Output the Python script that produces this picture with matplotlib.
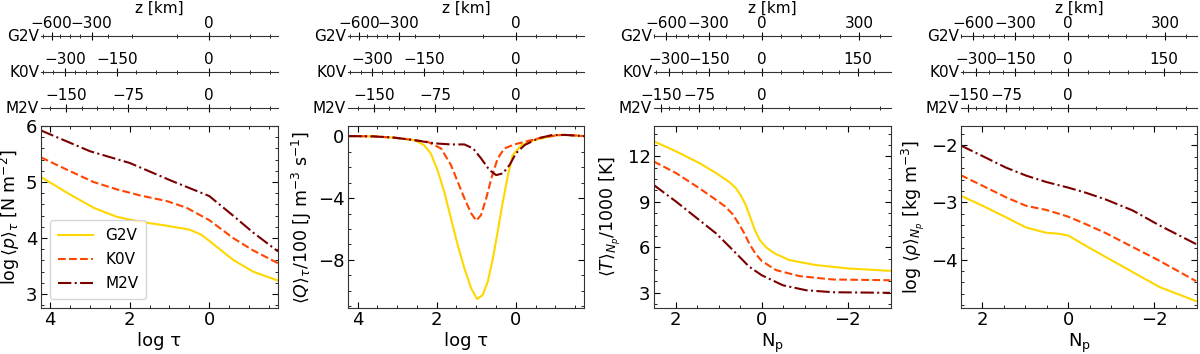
import matplotlib
matplotlib.use('Agg')
import matplotlib.pyplot as plt
from matplotlib.ticker import AutoMinorLocator

plt.rcParams['font.family'] = ['DejaVu Sans']
plt.rcParams['font.size'] = 11

STARS = ['G2V', 'K0V', 'M2V']
COLORS = ['gold', 'orangered', '#7a0000']
STYLES = ['-', '--', '-.']

# panel 1: log <p>_tau vs log tau
P_TAU = {
    'G2V': [4.23, 3.58, 2.91, 2.33, 1.74, 1.07, 0.5, 0.2, 0.0, -0.3, -0.6, -1.1, -1.73],
    'K0V': [4.23, 3.58, 2.91, 2.33, 1.74, 1.07, 0.57, 0.0, -0.6, -1.1, -1.73],
    'M2V': [4.23, 3.0, 2.0, 0.91, 0.0, -0.6, -1.1, -1.73],
}
P_VAL = {
    'G2V': [5.09, 4.81, 4.54, 4.38, 4.29, 4.22, 4.15, 4.06, 3.95, 3.78, 3.61, 3.40, 3.24],
    'K0V': [5.44, 5.22, 5.00, 4.87, 4.76, 4.66, 4.54, 4.32, 4.00, 3.78, 3.55],
    'M2V': [5.92, 5.55, 5.34, 5.01, 4.75, 4.40, 4.10, 3.76],
}

# panel 2: <Q>_tau / 100 vs log tau
Q_TAU = {
    'G2V': [4.23, 3.6, 3.08, 2.57, 2.32, 2.15, 1.98, 1.81, 1.64, 1.47, 1.30, 1.13, 0.98,
            0.84, 0.71, 0.58, 0.46, 0.33, 0.20, 0.08, -0.14, -0.47, -0.90, -1.1, -1.4, -1.72],
    'K0V': [4.23, 3.6, 3.08, 2.23, 1.89, 1.64, 1.47, 1.30, 1.13, 1.00, 0.88, 0.75, 0.62,
            0.46, 0.29, 0.04, -0.30, -0.64, -0.97, -1.2, -1.72],
    'M2V': [4.23, 3.6, 3.08, 2.57, 2.06, 1.64, 1.30, 1.08, 0.88, 0.67, 0.50, 0.33, 0.16,
            0.0, -0.22, -0.56, -0.90, -1.27, -1.72],
}
Q_VAL = {
    'G2V': [0.0, -0.02, -0.10, -0.26, -0.58, -1.12, -2.19, -3.59, -5.31, -7.03, -8.54, -9.83, -10.52,
            -10.26, -9.40, -7.89, -6.17, -4.24, -2.52, -1.23, -0.58, -0.26, 0.0, 0.08, 0.06, 0.0],
    'K0V': [0.0, -0.02, -0.10, -0.37, -0.80, -1.87, -2.95, -4.02, -4.99, -5.46, -5.10, -4.02, -2.73,
            -1.44, -0.80, -0.54, -0.32, -0.10, 0.02, 0.08, 0.0],
    'M2V': [0.0, -0.02, -0.10, -0.26, -0.47, -0.54, -0.54, -0.80, -1.44, -2.19, -2.52, -2.41, -1.87,
            -1.12, -0.58, -0.15, 0.06, 0.07, 0.0],
}

# panel 3: <T>_Np / 1000 vs Np
T_NP = {
    'G2V': [2.51, 1.99, 1.45, 1.06, 0.75, 0.6, 0.48, 0.38, 0.28, 0.17, 0.05, -0.1, -0.3,
            -0.64, -1.26, -2.04, -2.98],
    'K0V': [2.51, 1.99, 1.45, 1.06, 0.85, 0.68, 0.52, 0.4, 0.29, 0.15, 0.0, -0.33, -0.88, -1.65, -2.98],
    'M2V': [2.51, 1.99, 1.45, 1.06, 0.67, 0.29, 0.0, -0.49, -1.03, -1.65, -2.98],
}
T_VAL = {
    'G2V': [13.0, 12.33, 11.56, 10.9, 10.3, 9.9, 9.4, 8.85, 8.1, 7.2, 6.5, 6.0, 5.6,
            5.16, 4.83, 4.6, 4.45],
    'K0V': [11.67, 10.9, 9.9, 9.13, 8.7, 8.2, 7.5, 6.9, 6.25, 5.6, 5.1, 4.5, 4.1, 3.88, 3.83],
    'M2V': [10.12, 9.02, 7.8, 6.92, 5.82, 4.72, 4.16, 3.5, 3.17, 3.04, 3.0],
}

# panel 4: log <rho>_Np vs Np
R_NP = [2.51, 1.99, 1.45, 0.98, 0.52, 0.21, 0.0, -0.41, -0.88, -1.5, -2.12, -2.98]
R_VAL = {
    'G2V': [-2.88, -3.06, -3.26, -3.44, -3.53, -3.55, -3.58, -3.76, -3.96, -4.22, -4.48, -4.73],
    'K0V': [-2.52, -2.71, -2.91, -3.06, -3.13, -3.20, -3.25, -3.38, -3.54, -3.78, -4.02, -4.38],
    'M2V': [-2.00, -2.19, -2.39, -2.53, -2.64, -2.70, -2.74, -2.83, -2.95, -3.14, -3.40, -3.73],
}

# z [km] tick positions (in log tau / Np units) for the top scales
Z_TAU_MAJOR = {
    'G2V': ([3.96, 2.96, 0.0], ['\u2212600', '\u2212300', '0']),
    'K0V': ([3.63, 2.32, 0.0], ['\u2212300', '\u2212150', '0']),
    'M2V': ([3.59, 2.04, 0.0], ['\u2212150', '\u221275', '0']),
}
Z_TAU_MINOR = {
    'G2V': [4.18, 3.76, 3.50, 3.25, 2.54, 1.95, 0.82, -0.52, -1.02, -1.52],
    'K0V': [4.18, 3.92, 3.38, 3.09, 2.83, 1.83, 1.33, 0.82, -0.52, -1.02, -1.52],
    'M2V': [4.0, 3.21, 2.83, 2.42, 1.58, 1.08, 0.57, -0.52, -1.02, -1.52],
}
Z_NP_MAJOR = {
    'G2V': ([2.22, 1.23, 0.0, -2.26], ['\u2212600', '\u2212300', '0', '300']),
    'K0V': ([2.15, 1.23, 0.0, -2.23], ['\u2212300', '\u2212150', '0', '150']),
    'M2V': ([2.34, 1.45, 0.0], ['\u2212150', '\u221275', '0']),
}
Z_NP_MINOR = {
    'G2V': [2.5, 1.99, 1.72, 1.49, 0.83, 0.44, -0.45, -0.92, -1.34, -1.81, -2.74],
    'K0V': [2.46, 1.84, 1.53, 0.79, 0.40, -0.45, -0.95, -1.40, -1.79, -2.6],
    'M2V': [2.15, 1.91, 1.68, 1.14, 0.83, 0.40, -0.64, -1.34, -2.04, -2.74],
}

W, H = 1200, 354
fig = plt.figure(figsize=(W / 100, H / 100), dpi=100)

lefts = [41, 348, 654, 961]
widths = [237, 236, 237, 236]
main_bottom, main_height = 46 / H, 182 / H
line_y = [1 - 36.5 / H, 1 - 72.3 / H, 1 - 108.3 / H]

xlims = [(4.23, -1.73), (4.24, -1.72), (2.5, -3.0), (2.5, -3.0)]
ylims = [(2.75, 6.0), (-11.1, 0.65), (2.0, 14.0), (-4.85, -1.66)]
yticks = [[3, 4, 5, 6], [-8, -4, 0], [3, 6, 9, 12], [-4, -3, -2]]
xticks = [[4, 2, 0], [4, 2, 0], [2, 0, -2], [2, 0, -2]]
xlabels = ['log τ', 'log τ', r'N$_\mathrm{p}$', r'N$_\mathrm{p}$']
ylabels = [r'log$\,\langle p\rangle_\tau$ [N m$^{-2}$]',
           r'$\langle Q\rangle_\tau/100$ [J m$^{-3}$ s$^{-1}$]',
           r'$\langle T\rangle_{N_p}/1000$ [K]',
           r'log $\langle\rho\rangle_{N_p}$ [kg m$^{-3}$]']

for i in range(4):
    ax = fig.add_axes([lefts[i] / W, main_bottom, widths[i] / W, main_height])
    for s, c, ls in zip(STARS, COLORS, STYLES):
        if i == 0:
            x, y = P_TAU[s], P_VAL[s]
        elif i == 1:
            x, y = Q_TAU[s], Q_VAL[s]
        elif i == 2:
            x, y = T_NP[s], T_VAL[s]
        else:
            x, y = R_NP, R_VAL[s]
        ax.plot(x, y, color=c, ls=ls, lw=1.5, label=s)
    ax.set_xlim(*xlims[i])
    ax.set_ylim(*ylims[i])
    ax.set_xticks(xticks[i])
    ax.set_yticks(yticks[i])
    ax.xaxis.set_minor_locator(AutoMinorLocator())
    ax.yaxis.set_minor_locator(AutoMinorLocator())
    ax.tick_params(which='both', direction='in', top=True, right=True, labelsize=13, pad=2.5)
    ax.tick_params(which='major', length=4)
    ax.tick_params(which='minor', length=2)
    ax.set_xlabel(xlabels[i], fontsize=13, labelpad=2)
    ax.set_ylabel(ylabels[i], fontsize=12.5, labelpad=3)
    for sp in ax.spines.values():
        sp.set_color('#333333')
    if i == 0:
        leg = ax.legend(loc='lower left', fontsize=11, handlelength=2.3,
                        labelspacing=0.6, borderpad=0.5, borderaxespad=0.6)
        leg.get_frame().set_edgecolor('#cccccc')

    # top z scales
    major = Z_TAU_MAJOR if i < 2 else Z_NP_MAJOR
    minor = Z_TAU_MINOR if i < 2 else Z_NP_MINOR
    for j, s in enumerate(STARS):
        zax = fig.add_axes([lefts[i] / W, line_y[j], widths[i] / W, 0.0001])
        zax.set_xlim(*xlims[i])
        zax.set_yticks([])
        for k in ['left', 'right', 'bottom']:
            zax.spines[k].set_visible(False)
        zax.spines['top'].set_color('#333333')
        zax.patch.set_visible(False)
        zax.xaxis.set_ticks_position('top')
        pos, labs = major[s]
        zax.set_xticks(pos, labs)
        zax.set_xticks(minor[s], minor=True)
        zax.tick_params(which='major', direction='inout', length=6, labelsize=11, pad=1)
        zax.tick_params(which='minor', direction='inout', length=3.5)
        zax.text(-0.008, 0, s, transform=zax.transAxes, ha='right', va='center', fontsize=11)
        if j == 0:
            zax.xaxis.set_label_position('top')
            zax.set_xlabel('z [km]', fontsize=11, labelpad=2)

fig.savefig('out.png', dpi=100)
